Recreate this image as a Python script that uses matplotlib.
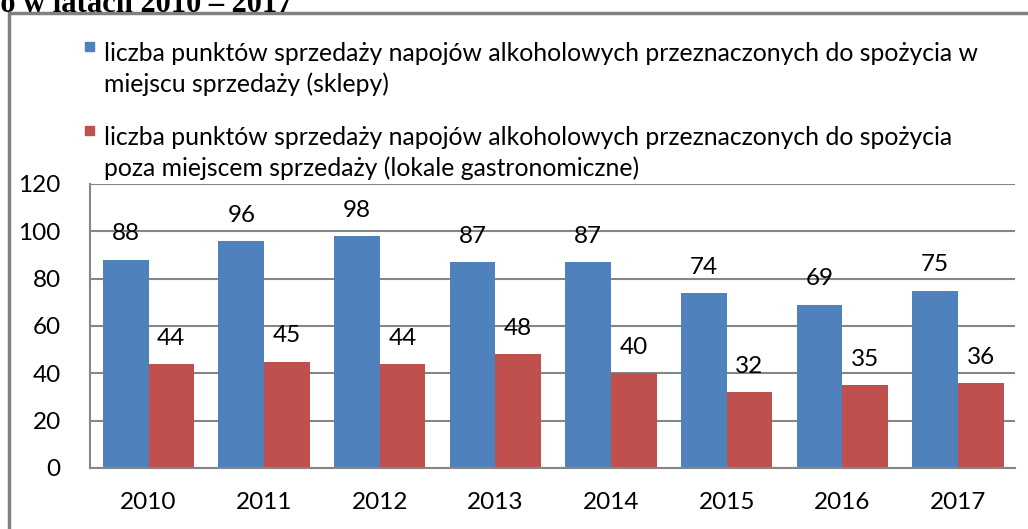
import matplotlib.pyplot as plt
import matplotlib.patches as mpatches
import numpy as np

years = ["2010", "2011", "2012", "2013", "2014", "2015", "2016", "2017"]
sklepy = [88, 96, 98, 87, 87, 74, 69, 75]
lokale = [44, 45, 44, 48, 40, 32, 35, 36]
labels = [
    "liczba punktów sprzedaży napojów alkoholowych przeznaczonych do spożycia w\nmiejscu sprzedaży (sklepy)",
    "liczba punktów sprzedaży napojów alkoholowych przeznaczonych do spożycia\npoza miejscem sprzedaży (lokale gastronomiczne)",
]
yticks = [0, 20, 40, 60, 80, 100, 120]

BLUE = "#4F81BD"
RED = "#C0504D"
GRID = "#868686"

plt.rcParams["font.family"] = ["Lato", "DejaVu Sans"]
FS = 17.5

W, H = 1028, 529
fig = plt.figure(figsize=(W / 100, H / 100), dpi=100)
ax = fig.add_axes([90 / W, 1 - 468 / H, (1015 - 90) / W, (468 - 184) / H])

x = np.arange(len(years)) + 0.506
bw = 0.395
b1 = ax.bar(x - bw / 2, sklepy, bw, color=BLUE, zorder=2)
b2 = ax.bar(x + bw / 2, lokale, bw, color=RED, zorder=2)
ax.bar_label(b1, padding=11, fontsize=FS)
ax.bar_label(b2, padding=11, fontsize=FS)

ax.set_xlim(0, len(years))
ax.set_ylim(0, 120)
ax.set_yticks(yticks)
ax.set_yticklabels([str(v) for v in yticks], fontsize=FS)
ax.set_xticks(x)
ax.set_xticklabels(years, fontsize=FS)
ax.tick_params(axis="both", length=0)
ax.tick_params(axis="y", pad=21)
ax.tick_params(axis="x", pad=17)
ax.yaxis.grid(True, color=GRID, linewidth=1.5, zorder=0)
ax.set_axisbelow(True)
for side in ["top", "right"]:
    ax.spines[side].set_visible(False)
for side in ["left", "bottom"]:
    ax.spines[side].set_color(GRID)
    ax.spines[side].set_linewidth(1.5)

# legend drawn by hand at the top of the chart area
for col, lab, ytop in [(BLUE, labels[0], 42), (RED, labels[1], 126)]:
    fig.patches.append(mpatches.Rectangle((85 / W, 1 - (ytop + 9) / H), 9 / W, 9 / H,
                                          transform=fig.transFigure, color=col))
    fig.text(104 / W, 1 - ytop / H, lab, fontsize=17.8, va="top",
             ha="left", linespacing=1.38)

# outer chart frame (cut by the image edges)
fig.patches.append(mpatches.Rectangle((8.5 / W, -0.1), 1.2, 1 - 13 / H + 0.1,
                                      transform=fig.transFigure, fill=False,
                                      edgecolor="#808080", linewidth=2.5))

# title cut off at the top of the picture
fig.text(293 / W, 1 - 12 / H,
         "Liczba punktów sprzedaży napojów alkoholowych w mieście Gniezno w latach 2010 – 2017",
         fontsize=22, fontweight="bold", family="Liberation Serif",
         ha="right", va="baseline")

fig.savefig("out.png", dpi=100)
